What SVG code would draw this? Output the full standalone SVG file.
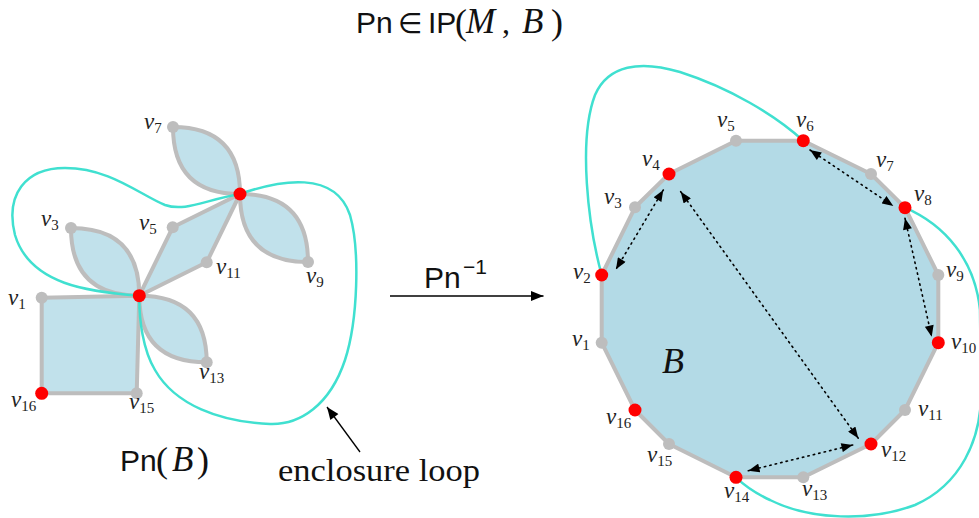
<svg xmlns="http://www.w3.org/2000/svg" width="979" height="518" viewBox="0 0 979 518">
<defs>
<style>
.shapeL{fill:#c1e1eb;stroke:#bdbdbd;stroke-width:4;stroke-linejoin:round}
.shapeR{fill:#b3dae6;stroke:#bdbdbd;stroke-width:4;stroke-linejoin:round}
.loop{fill:none;stroke:#40e0d0;stroke-width:2.5}
.dot{fill:none;stroke:#000;stroke-width:1.6;stroke-dasharray:1.4 4.2;stroke-linecap:round}
.g{fill:#bdbdbd}
.r{fill:#ff0000}
.lbl{font-family:"Liberation Serif","DejaVu Serif",serif;font-style:italic;font-size:23px;fill:#222}
.sub{font-style:normal;font-size:15px}
.sans{font-family:"Liberation Sans","DejaVu Sans",sans-serif;font-style:normal;fill:#111}
.serif{font-family:"Liberation Serif","DejaVu Serif",serif;font-style:normal;fill:#111}
.it{font-family:"Liberation Serif","DejaVu Serif",serif;font-style:italic;fill:#111}
</style>
<marker id="ah" viewBox="0 0 10 8" refX="10" refY="4" markerWidth="12" markerHeight="9" markerUnits="userSpaceOnUse" orient="auto-start-reverse"><path d="M0,0 L10,4 L0,8 z" fill="#000"/></marker>
<marker id="ahBig" viewBox="0 0 10 8" refX="10" refY="4" markerWidth="15" markerHeight="10" markerUnits="userSpaceOnUse" orient="auto"><path d="M0,0 L10,4 L0,8 z" fill="#000"/></marker>
</defs>

<g id="left-shapes">
<path class="shapeL" d="M41.7,297.7 L139.3,295.7 L136.7,393.3 L41.7,393.3 Z"/>
<path class="shapeL" d="M139.3,295.7 L172.7,227.3 L240,194 L206.7,262.3 Z"/>
<path class="shapeL" d="M173,127 Q240,127 240,194 Q173,194 173,127 Z"/>
<path class="shapeL" d="M240,194 Q308,194 308,262 Q240,262 240,194 Z"/>
<path class="shapeL" d="M71,228 Q139.3,228 139.3,295.7 Q71,295.7 71,228 Z"/>
<path class="shapeL" d="M139.3,295.7 Q206.7,295.7 206.7,362.3 Q139.3,362.3 139.3,295.7 Z"/>
</g>

<g id="B-polygon">
<polygon class="shapeR" points="736,140.7 803.3,140.7 871,174 905,207.7 938.3,275 938.3,342.7 905,410 871,444 803.3,477.3 736,477.3 669,444 635,410 601.7,342.7 601.7,275 635,207.3 669,174"/>
<text class="it" x="662" y="373" font-size="36">B</text>
</g>

<g id="connectors">
<path class="loop" d="M139.3,295.7 C90,292 30,285 15,235 C5,195 25,168 65,168 C110,168 140,195 165,205 C185,212 205,200 240,194"/>
<path class="loop" d="M240,194 C280,180 335,170 350,215 C360,250 358,320 345,360 C330,405 300,425 270,424 C220,422 175,405 155,370 C143,350 139,320 139.3,295.7"/>
<path class="loop" d="M601.7,275 C588,225 578,140 595,95 C608,65 640,60 680,72 C730,88 775,115 803.3,140.7"/>
<path class="loop" d="M905,207.7 C945,225 975,260 980,310 L981,390 C982,440 960,485 915,505 C870,522 810,520 770,500 C755,493 745,486 736,477.3"/>
<line class="dot" x1="663.3" y1="190" x2="616" y2="269.3" marker-start="url(#ah)" marker-end="url(#ah)"/>
<line class="dot" x1="680.7" y1="191.7" x2="858.3" y2="438.3" marker-start="url(#ah)" marker-end="url(#ah)"/>
<line class="dot" x1="810" y1="150" x2="893.3" y2="206" marker-start="url(#ah)" marker-end="url(#ah)"/>
<line class="dot" x1="905" y1="218.3" x2="931.7" y2="336.7" marker-start="url(#ah)" marker-end="url(#ah)"/>
<line class="dot" x1="852.7" y1="445" x2="748.3" y2="470.7" marker-start="url(#ah)" marker-end="url(#ah)"/>
<line x1="390" y1="296" x2="543.5" y2="296" stroke="#000" stroke-width="1.3" marker-end="url(#ahBig)"/>
<line x1="360" y1="452" x2="327" y2="407" stroke="#000" stroke-width="1.3" marker-end="url(#ahBig)"/>
</g>

<g id="L-v7"><circle class="g" cx="173" cy="127" r="6"/><text class="lbl" x="144" y="129">v<tspan class="sub" dy="4">7</tspan></text></g>
<g id="L-top"><circle class="r" cx="240" cy="194" r="6.5"/></g>
<g id="L-v5"><circle class="g" cx="172.7" cy="227.3" r="6"/><text class="lbl" x="139" y="230">v<tspan class="sub" dy="4">5</tspan></text></g>
<g id="L-v11"><circle class="g" cx="206.7" cy="262.3" r="6"/><text class="lbl" x="216" y="274">v<tspan class="sub" dy="4">11</tspan></text></g>
<g id="L-v9"><circle class="g" cx="308" cy="262" r="6"/><text class="lbl" x="306" y="283">v<tspan class="sub" dy="4">9</tspan></text></g>
<g id="L-v3"><circle class="g" cx="71" cy="228" r="6"/><text class="lbl" x="41" y="226">v<tspan class="sub" dy="4">3</tspan></text></g>
<g id="L-center"><circle class="r" cx="139.3" cy="295.7" r="6.5"/></g>
<g id="L-v1"><circle class="g" cx="41.7" cy="297.7" r="6"/><text class="lbl" x="8" y="305">v<tspan class="sub" dy="4">1</tspan></text></g>
<g id="L-v16"><circle class="r" cx="41.7" cy="393.3" r="6.5"/><text class="lbl" x="11" y="407">v<tspan class="sub" dy="4">16</tspan></text></g>
<g id="L-v15"><circle class="g" cx="136.7" cy="393.3" r="6"/><text class="lbl" x="129" y="409">v<tspan class="sub" dy="4">15</tspan></text></g>
<g id="L-v13"><circle class="g" cx="206.7" cy="362.3" r="6"/><text class="lbl" x="199" y="379">v<tspan class="sub" dy="4">13</tspan></text></g>

<g id="R-v5"><circle class="g" cx="736" cy="140.7" r="6"/><text class="lbl" x="717" y="127">v<tspan class="sub" dy="4">5</tspan></text></g>
<g id="R-v6"><circle class="r" cx="803.3" cy="140.7" r="6.5"/><text class="lbl" x="796" y="127">v<tspan class="sub" dy="4">6</tspan></text></g>
<g id="R-v7"><circle class="g" cx="871" cy="174" r="6"/><text class="lbl" x="876" y="167">v<tspan class="sub" dy="4">7</tspan></text></g>
<g id="R-v8"><circle class="r" cx="905" cy="207.7" r="6.5"/><text class="lbl" x="914" y="201">v<tspan class="sub" dy="4">8</tspan></text></g>
<g id="R-v9"><circle class="g" cx="938.3" cy="275" r="6"/><text class="lbl" x="946" y="277">v<tspan class="sub" dy="4">9</tspan></text></g>
<g id="R-v10"><circle class="r" cx="938.3" cy="342.7" r="6.5"/><text class="lbl" x="951" y="349">v<tspan class="sub" dy="4">10</tspan></text></g>
<g id="R-v11"><circle class="g" cx="905" cy="410" r="6"/><text class="lbl" x="918" y="416">v<tspan class="sub" dy="4">11</tspan></text></g>
<g id="R-v12"><circle class="r" cx="871" cy="444" r="6.5"/><text class="lbl" x="881" y="457">v<tspan class="sub" dy="4">12</tspan></text></g>
<g id="R-v13"><circle class="g" cx="803.3" cy="477.3" r="6"/><text class="lbl" x="802" y="496">v<tspan class="sub" dy="4">13</tspan></text></g>
<g id="R-v14"><circle class="r" cx="736" cy="477.3" r="6.5"/><text class="lbl" x="724" y="498">v<tspan class="sub" dy="4">14</tspan></text></g>
<g id="R-v15"><circle class="g" cx="669" cy="444" r="6"/><text class="lbl" x="647" y="462">v<tspan class="sub" dy="4">15</tspan></text></g>
<g id="R-v16"><circle class="r" cx="635" cy="410" r="6.5"/><text class="lbl" x="606" y="424">v<tspan class="sub" dy="4">16</tspan></text></g>
<g id="R-v1"><circle class="g" cx="601.7" cy="342.7" r="6"/><text class="lbl" x="572" y="346">v<tspan class="sub" dy="4">1</tspan></text></g>
<g id="R-v2"><circle class="r" cx="601.7" cy="275" r="6.5"/><text class="lbl" x="573" y="279">v<tspan class="sub" dy="4">2</tspan></text></g>
<g id="R-v3"><circle class="g" cx="635" cy="207.3" r="6"/><text class="lbl" x="604" y="204">v<tspan class="sub" dy="4">3</tspan></text></g>
<g id="R-v4"><circle class="r" cx="669" cy="174" r="6.5"/><text class="lbl" x="642" y="166">v<tspan class="sub" dy="4">4</tspan></text></g>

<g id="title">
<text y="33" font-size="30"><tspan class="sans" x="356">Pn</tspan><tspan class="sans" x="398" font-size="28" font-family="DejaVu Sans">∈</tspan><tspan class="sans" x="428">IP</tspan><tspan class="serif" x="455" font-size="36" dy="1">(</tspan><tspan class="it" x="466" font-size="35" dy="-1">M</tspan><tspan class="serif" x="502" font-size="32">,</tspan><tspan class="it" x="522" font-size="35">B</tspan><tspan class="serif" x="551" font-size="36" dy="1">)</tspan></text>
</g>
<g id="arrow-label">
<text y="288" font-size="30"><tspan class="sans" x="424">Pn</tspan><tspan class="sans" x="463" y="274" font-size="21">−1</tspan></text>
</g>
<g id="PnB-label">
<text y="471" font-size="30"><tspan class="sans" x="120">Pn</tspan><tspan class="serif" x="156" font-size="36" dy="1">(</tspan><tspan class="it" x="172" font-size="35" dy="-1">B</tspan><tspan class="serif" x="197" font-size="36" dy="1">)</tspan></text>
</g>
<g id="enclosure-label">
<text class="serif" x="278" y="481" font-size="32" textLength="202" lengthAdjust="spacingAndGlyphs">enclosure loop</text>
</g>
</svg>
